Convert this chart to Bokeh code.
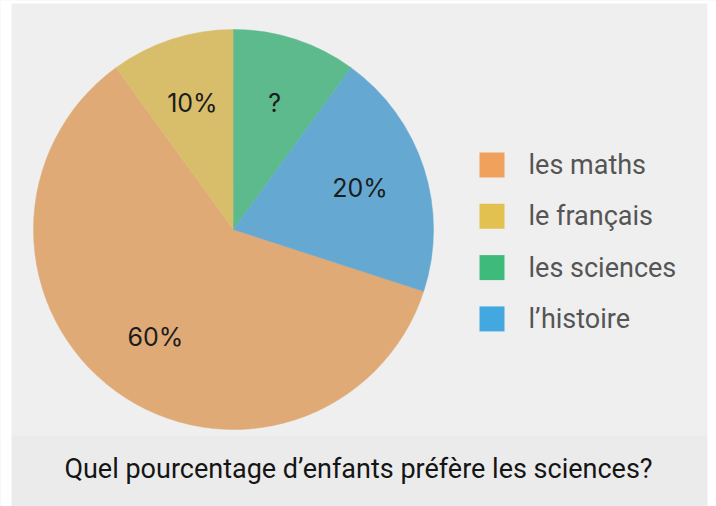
import numpy as np
from bokeh.plotting import figure
from bokeh.models import Range1d, ColumnDataSource, BoxAnnotation
from bokeh.core.properties import value
from bokeh.embed import file_html
from bokeh.resources import INLINE

# ---- data ----
subjects = ["les maths", "le français", "les sciences", "l’histoire"]
percent = [60, 10, 10, 20]
slice_labels = ["60%", "10%", "?", "20%"]
pie_colors = ["#DFAA76", "#D8BE6B", "#5DBA8C", "#65A9D3"]
legend_colors = ["#F0A15C", "#E2C150", "#3EBA7A", "#42A8DF"]
clockwise_from_top = ["les sciences", "l’histoire", "les maths", "le français"]
question = "Quel pourcentage d’enfants préfère les sciences?"

# ---- layout (page pixels) ----
W, H = 716, 506
def py(page_y):
    return H - page_y

cx, cy, R = 233, py(229), 200
label_r = 133

# ---- pie geometry from data ----
total = float(sum(percent))
idx = {s: i for i, s in enumerate(subjects)}
starts, ends, mids = [0.0] * 4, [0.0] * 4, [0.0] * 4
cum = 0.0
for s in clockwise_from_top:
    i = idx[s]
    frac = percent[i] / total
    starts[i] = np.pi / 2 - 2 * np.pi * cum
    ends[i] = np.pi / 2 - 2 * np.pi * (cum + frac)
    mids[i] = np.pi / 2 - 2 * np.pi * (cum + frac / 2)
    cum += frac

pie_src = ColumnDataSource(dict(
    subject=subjects, start=starts, end=ends, color=pie_colors,
    lx=[cx + label_r * np.cos(m) for m in mids],
    ly=[cy + label_r * np.sin(m) for m in mids],
    label=slice_labels,
))

p = figure(width=W, height=H, output_backend="svg", toolbar_location=None,
           x_range=Range1d(0, W), y_range=Range1d(0, H),
           min_border=0, outline_line_color=None,
           background_fill_color="#efefef", border_fill_color="#efefef")
p.axis.visible = False
p.grid.visible = False

# lower band & white margins
for kw in [dict(bottom=0, top=py(435), fill_color="#ebebeb"),
           dict(left=0, right=11, fill_color="white"),
           dict(left=707, right=W, fill_color="white"),
           dict(bottom=py(3), top=H, fill_color="white")]:
    p.add_layout(BoxAnnotation(fill_alpha=1, line_color=None, level="underlay", **kw))

p.wedge(x=cx, y=cy, radius=R, start_angle="start", end_angle="end", direction="clock",
        fill_color="color", line_color="color", line_width=0.5, source=pie_src)

p.text(x="lx", y="ly", text="label", source=pie_src, text_align="center", text_baseline="middle",
       text_font=value("Inter"), text_font_size="25px", text_color="#1c1c1c")

# ---- legend ----
leg_step = 51.3
leg_src = ColumnDataSource(dict(
    x=[491.5] * 4,
    y=[py(164.5 + i * leg_step) for i in range(4)],
    tx=[528] * 4,
    label=subjects, color=legend_colors,
))
p.rect(x="x", y="y", width=25, height=25, fill_color="color", line_color=None, source=leg_src)
p.text(x="tx", y="y", text="label", source=leg_src, text_align="left", text_baseline="middle",
       text_font=value("Roboto"), text_font_size="27px", text_color="#555555")

# ---- question ----
p.text(x=[358], y=[py(468)], text=[question], text_align="center", text_baseline="alphabetic",
       text_font=value("Roboto"), text_font_size="27px", text_color="#151515")

open("out.html", "w").write(file_html(p, INLINE))
